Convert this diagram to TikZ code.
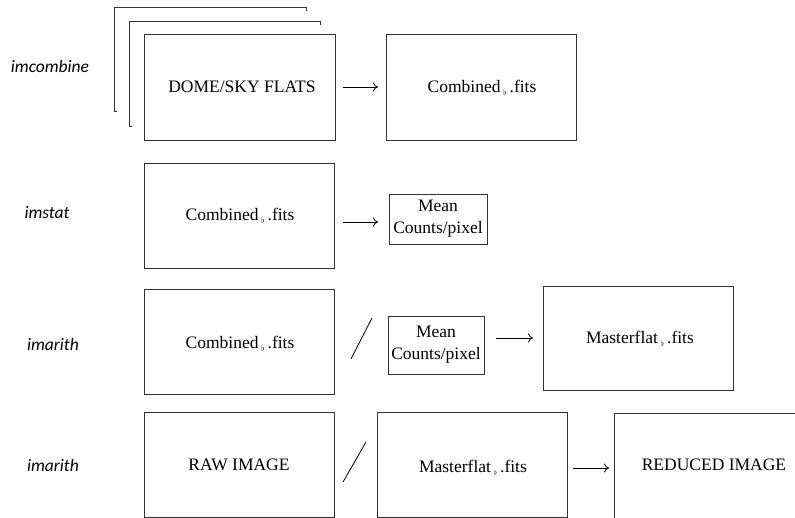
\documentclass[tikz,border=0pt]{standalone}
\usepackage{fontspec}
\usetikzlibrary{arrows.meta}
\setmainfont{Liberation Serif}
\newfontfamily\labfont{Carlito}
\newcommand{\sflat}{\,\raisebox{-3pt}{\footnotesize$\flat$}\,}
\begin{document}
\begin{tikzpicture}[x=1pt,y=-1pt,
  box/.style={draw=black!80, line width=0.9pt},
  txt/.style={font=\fontsize{17.5}{22}\selectfont, align=center, inner sep=0pt},
  lab/.style={font=\labfont\itshape\fontsize{17.5}{20}\selectfont, inner sep=0pt},
  arr/.style={draw=black, line width=0.8pt, -{To[length=5pt,width=9pt]}},
  slash/.style={draw=black, line width=0.8pt}]
\useasboundingbox (0,0) rectangle (795,518);
\clip (0,0) rectangle (795,518);
% labels
\node[lab] (l1) at (50,66) {imcombine};
\node[lab] (l2) at (47,213) {imstat};
\node[lab] (l3) at (53,344) {imarith};
\node[lab] (l4) at (53,465) {imarith};
% stack behind
\draw[box] (117,111) -- (114,111) -- (114,7) -- (306,7) -- (306,11);
\draw[box] (132,126) -- (129,126) -- (129,21) -- (320,21) -- (320,25);
% row 1
\draw[box] (144,34) rectangle (335,140);
\node[txt] (dome) at (242,87) {DOME/SKY FLATS};
\draw[box] (386,34) rectangle (576,140);
\node[txt] (comb1) at (482,88) {Combined\sflat.fits};
\coordinate (a1s) at (343,87);
\coordinate (a1e) at (378,87);
\draw[arr] (a1s) -- (a1e);
% row 2
\draw[box] (144,163) rectangle (334,268);
\node[txt] (comb2) at (240,216) {Combined\sflat.fits};
\node[box, txt, minimum width=98pt, minimum height=50pt] (mean1) at (438,219) {Mean\\Counts/pixel};
\coordinate (a2s) at (343,222);
\coordinate (a2e) at (378,222);
\draw[arr] (a2s) -- (a2e);
% row 3
\draw[box] (144,289) rectangle (334,394);
\node[txt] (comb3) at (240,344) {Combined\sflat.fits};
\coordinate (s1a) at (351,359);
\coordinate (s1b) at (372,318);
\draw[slash] (s1a) -- (s1b);
\node[box, txt, minimum width=96pt, minimum height=58pt] (mean2) at (436,345) {Mean\\Counts/pixel};
\coordinate (a3s) at (496,338);
\coordinate (a3e) at (533,338);
\draw[arr] (a3s) -- (a3e);
\draw[box] (543,286) rectangle (733,390);
\node[txt] (mast1) at (640,339) {Masterflat\sflat.fits};
% row 4
\draw[box] (144,412) rectangle (334,517);
\node[txt] (raw) at (239,465) {RAW IMAGE};
\coordinate (s2a) at (343,482);
\coordinate (s2b) at (366,442);
\draw[slash] (s2a) -- (s2b);
\draw[box] (377,412) rectangle (567,517);
\node[txt] (mast2) at (473,468) {Masterflat\sflat.fits};
\coordinate (a4s) at (573,468);
\coordinate (a4e) at (609,468);
\draw[arr] (a4s) -- (a4e);
\draw[box] (614,413) rectangle (805,530);
\node[txt] (red) at (714,465) {REDUCED IMAGE};
\end{tikzpicture}
\end{document}
